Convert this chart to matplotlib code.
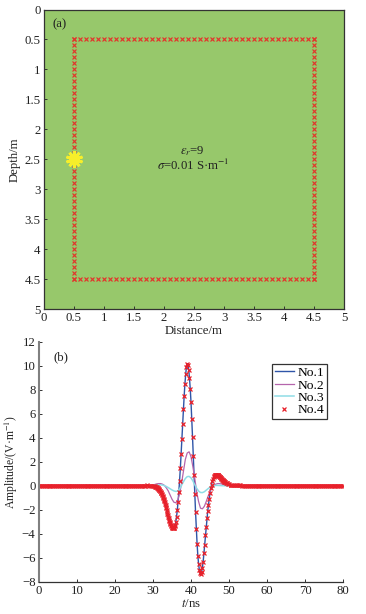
from matplotlib import pyplot as plt
import matplotlib as mpl

mpl.rc('font', family=['Liberation Serif', 'DejaVu Serif'])
mpl.rc('mathtext', fontset='stix')

# Model geometry
receiver_pos = [0.5, 0.6, 0.7, 0.8, 0.9, 1.0, 1.1, 1.2, 1.3, 1.4, 1.5, 1.6, 1.7, 1.8,
                1.9, 2.0, 2.1, 2.2, 2.3, 2.4, 2.5, 2.6, 2.7, 2.8, 2.9, 3.0, 3.1, 3.2,
                3.3, 3.4, 3.5, 3.6, 3.7, 3.8, 3.9, 4.0, 4.1, 4.2, 4.3, 4.4, 4.5]
edge_min = [0.5] * 41
edge_max = [4.5] * 41
source_x = [0.5]
source_y = [2.5]
grid_ticks = [0, 0.5, 1, 1.5, 2, 2.5, 3, 3.5, 4, 4.5, 5]
grid_labels = ['0', '0.5', '1', '1.5', '2', '2.5', '3', '3.5', '4', '4.5', '5']

# Waveform, No.1 and No.4 lie on the same curve
t_wave = [0, 0.5, 1, 1.5, 2, 2.5, 3, 3.5, 4, 4.5, 5, 5.5, 6, 6.5, 7, 7.5, 8, 8.5, 9, 9.5,
          10, 10.5, 11, 11.5, 12, 12.5, 13, 13.5, 14, 14.5, 15, 15.5, 16, 16.5, 17, 17.5,
          18, 18.5, 19, 19.5, 20, 20.5, 21, 21.5, 22, 22.5, 23, 23.5, 24, 24.5, 25, 25.5,
          26, 26.5, 27, 27.5, 28, 28.5, 29, 29.5,
          30.0, 30.2, 30.4, 30.6, 30.8, 31.0, 31.2, 31.4, 31.6, 31.8,
          32.0, 32.2, 32.4, 32.6, 32.8, 33.0, 33.2, 33.4, 33.6, 33.8,
          34.0, 34.2, 34.4, 34.6, 34.8, 35.0, 35.2, 35.4, 35.6, 35.8,
          36.0, 36.2, 36.4, 36.6, 36.8, 37.0, 37.2, 37.4, 37.6, 37.8,
          38.0, 38.2, 38.4, 38.6, 38.8, 39.0, 39.2, 39.4, 39.6, 39.8,
          40.0, 40.2, 40.4, 40.6, 40.8, 41.0, 41.2, 41.4, 41.6, 41.8,
          42.0, 42.2, 42.4, 42.6, 42.8, 43.0, 43.2, 43.4, 43.6, 43.8,
          44.0, 44.2, 44.4, 44.6, 44.8, 45.0, 45.2, 45.4, 45.6, 45.8,
          46.0, 46.2, 46.4, 46.6, 46.8, 47.0, 47.2, 47.4, 47.6, 47.8,
          48.0, 48.2, 48.4, 48.6, 48.8, 49.0, 49.2, 49.4, 49.6, 49.8,
          50, 50.5, 51, 51.5, 52, 52.5, 53, 53.5, 54, 54.5, 55, 55.5, 56, 56.5, 57, 57.5,
          58, 58.5, 59, 59.5, 60, 60.5, 61, 61.5, 62, 62.5, 63, 63.5, 64, 64.5, 65, 65.5,
          66, 66.5, 67, 67.5, 68, 68.5, 69, 69.5, 70, 70.5, 71, 71.5, 72, 72.5, 73, 73.5,
          74, 74.5, 75, 75.5, 76, 76.5, 77, 77.5, 78, 78.5, 79, 79.5, 80]
amp_wave = [0] * 50 + [0.01, 0.02, 0.02, 0.03, 0.03, 0.04, 0.04, 0.05, 0.04, 0.03,
            0.02, 0.0, -0.02, -0.05, -0.08, -0.12, -0.17, -0.23, -0.3, -0.4,
            -0.5, -0.62, -0.76, -0.9, -1.05, -1.25, -1.5, -1.75, -2.0, -2.3,
            -2.55, -2.8, -3.0, -3.2, -3.35, -3.45, -3.5, -3.5, -3.42, -3.25,
            -3.0, -2.55, -2.0, -1.3, -0.5, 0.45, 1.5, 2.7, 3.95, 5.2,
            6.4, 7.5, 8.5, 9.3, 9.95, 10.2, 10.1, 9.7, 9.0, 8.1,
            7.0, 5.6, 4.1, 2.5, 0.9, -0.7, -2.2, -3.6, -4.8, -5.8,
            -6.5, -7.0, -7.25, -7.3, -7.15, -6.8, -6.3, -5.6, -4.9, -4.1,
            -3.4, -2.7, -2.1, -1.55, -1.05, -0.6, -0.2, 0.1, 0.4, 0.6,
            0.75, 0.85, 0.92, 0.95, 0.95, 0.93, 0.88, 0.82, 0.75, 0.68,
            0.6, 0.53, 0.47, 0.41, 0.36, 0.31, 0.27, 0.24, 0.21, 0.18,
            0.16, 0.12, 0.1, 0.08, 0.07, 0.06, 0.05, 0.04, 0.04, 0.03, 0.03, 0.02, 0.02, 0.02, 0.01, 0.01,
            0.01, 0.01, 0.01, 0.01] + [0] * 41

# The No.4 crosses crowd closer together on the slow flanks
t_flank = [30.9, 31.1, 31.3, 31.5, 31.7, 31.9, 32.1, 32.3, 32.5, 32.7, 32.9, 33.1, 33.3, 33.5,
           33.7, 33.9, 34.1, 34.3, 34.5, 34.7, 34.9, 35.1, 35.3, 35.5, 35.7,
           46.1, 46.3, 46.5, 46.7, 46.9, 47.1, 47.3, 47.5, 47.7, 47.9, 48.1, 48.3, 48.5, 48.7, 48.9]
amp_flank = [-0.1, -0.14, -0.2, -0.26, -0.35, -0.45, -0.56, -0.69, -0.83, -0.97, -1.15, -1.37,
             -1.62, -1.87, -2.15, -2.42, -2.68, -2.9, -3.1, -3.28, -3.4, -3.48, -3.5, -3.47, -3.35,
             0.8, 0.89, 0.94, 0.95, 0.94, 0.9, 0.85, 0.78, 0.71, 0.64, 0.56, 0.5, 0.44, 0.38, 0.33]

# Flat stretches of the No.4 crosses, which merge into a band
t_band_left = [0, 30]
t_band_right = [50, 80]
amp_band = [0, 0]

t_sparse = [0, 25, 29, 30, 30.5, 31, 31.5, 32, 32.5, 33, 33.5, 34, 34.5, 35, 35.5, 36, 36.5,
            37, 37.5, 38, 38.5, 39, 39.5, 40, 40.5, 41, 41.5, 42, 42.5, 43, 43.5, 44, 44.5,
            45, 45.5, 46, 46.5, 47, 47.5, 48, 49, 50, 52, 55, 80]
amp_no2 = [0, 0, 0.02, 0.08, 0.13, 0.18, 0.2, 0.2, 0.15, 0.05, -0.15, -0.4, -0.75, -1.1, -1.35,
           -1.4, -1.2, -0.65, 0.2, 1.2, 2.2, 2.75, 2.85, 2.45, 1.6, 0.6, -0.5, -1.3, -1.85,
           -1.9, -1.7, -1.3, -0.85, -0.45, -0.15, 0.05, 0.15, 0.2, 0.2, 0.17, 0.1, 0.05, 0.02, 0, 0]
amp_no3 = [0, 0, 0.01, 0.03, 0.05, 0.07, 0.09, 0.1, 0.08, 0.03, -0.04, -0.13, -0.23, -0.33, -0.41,
           -0.45, -0.42, -0.25, 0.05, 0.35, 0.62, 0.78, 0.8, 0.68, 0.42, 0.1, -0.2, -0.42, -0.54,
           -0.55, -0.48, -0.35, -0.22, -0.1, -0.02, 0.03, 0.05, 0.05, 0.04, 0.03, 0.02, 0.01, 0, 0, 0]

t_ticks = [0, 10, 20, 30, 40, 50, 60, 70, 80]
amp_ticks = [-8, -6, -4, -2, 0, 2, 4, 6, 8, 10, 12]
series_labels = ['No.1', 'No.2', 'No.3', 'No.4']

W, H = 366, 614
FS = 9.2
INK = '#222222'
fig = plt.figure(figsize=(W / 100, H / 100), dpi=100)

# SUBPLOT (a): model
ax = fig.add_axes([44 / W, (H - 309) / H, 300 / W, 299.5 / H], facecolor='#97c86b')
ax.plot(receiver_pos, edge_min, 'x', c='#e2352c', ms=2.8, mew=0.85)
ax.plot(receiver_pos, edge_max, 'x', c='#e2352c', ms=2.8, mew=0.85)
ax.plot(edge_min, receiver_pos, 'x', c='#e2352c', ms=2.8, mew=0.85)
ax.plot(edge_max, receiver_pos, 'x', c='#e2352c', ms=2.8, mew=0.85)
ax.plot(source_x, source_y, marker=(10, 2, 0), c='#f7ee2a', ms=12, mew=1.9, ls='none', zorder=5)
ax.set_xlim(0, 5)
ax.set_ylim(5, 0)
ax.set_xticks(grid_ticks, grid_labels)
ax.set_yticks(grid_ticks, grid_labels)
ax.tick_params(direction='in', length=2.5, width=0.7, labelsize=FS, pad=2.5, color='#333333',
               labelcolor=INK)
ax.set_xlabel('Distance/m', fontsize=FS, color=INK)
ax.set_ylabel('Depth/m', fontsize=FS, color=INK)
ax.xaxis.set_label_coords(0.5, -0.055)
ax.yaxis.set_label_coords(-0.077, 0.5)
for s in ax.spines.values():
    s.set_linewidth(0.9)
    s.set_color('#333333')
ax.text(0.14, 0.29, '(a)', fontsize=FS, color=INK)
ax.text(2.48, 2.37, r'$\varepsilon_r$=9', fontsize=FS, ha='center', va='center', color=INK)
ax.text(2.48, 2.6, '$\\sigma$=0.01 S·m$^{-1}$', fontsize=FS, ha='center', va='center', color=INK)

# SUBPLOT (b): waveforms
ax2 = fig.add_axes([39 / W, (H - 582) / H, 304 / W, 240 / H])
ax2.plot(t_wave, amp_wave, c='#2f55a8', lw=1.0, label=series_labels[0])
ax2.plot(t_sparse, amp_no2, c='#b565ac', lw=0.9, label=series_labels[1])
ax2.plot(t_sparse, amp_no3, c='#8fdde6', lw=1.1, label=series_labels[2])
ax2.plot(t_band_left, amp_band, c='#ee5560', lw=2.8, solid_capstyle='butt')
ax2.plot(t_band_right, amp_band, c='#ee5560', lw=2.8, solid_capstyle='butt')
ax2.plot(t_wave, amp_wave, 'x', c='#e8202a', ms=2.8, mew=0.9, label=series_labels[3])
ax2.plot(t_flank, amp_flank, 'x', c='#e8202a', ms=2.8, mew=0.9)
ax2.set_xlim(0, 80)
ax2.set_ylim(-8, 12)
ax2.set_xticks(t_ticks)
ax2.set_yticks(amp_ticks)
ax2.tick_params(direction='in', length=2.5, width=0.7, labelsize=FS, pad=2.5, color='#333333',
                labelcolor=INK)
ax2.spines['top'].set_visible(False)
ax2.spines['right'].set_visible(False)
ax2.spines['left'].set_linewidth(1.5)
ax2.spines['left'].set_color('#808080')
ax2.spines['bottom'].set_linewidth(0.9)
ax2.spines['bottom'].set_color('#333333')
ax2.set_xlabel('$t$/ns', fontsize=FS, color=INK)
ax2.set_ylabel('Amplitude/(V·m$^{-1}$)', fontsize=8.4, color=INK)
ax2.xaxis.set_label_coords(0.5, -0.066)
ax2.yaxis.set_label_coords(-0.0625, 0.5)
ax2.text(3.7, 10.45, '(b)', fontsize=FS, color=INK)

leg = ax2.legend(loc='upper left', bbox_to_anchor=(272 / W, (H - 364) / H), bbox_transform=fig.transFigure,
                 fontsize=9.7, frameon=True, fancybox=False, edgecolor='#333333', framealpha=1,
                 borderpad=0.2, labelspacing=0, handlelength=1.45, handletextpad=0.25, borderaxespad=0)
leg.get_frame().set_linewidth(0.9)

fig.savefig('out.png', dpi=100)
